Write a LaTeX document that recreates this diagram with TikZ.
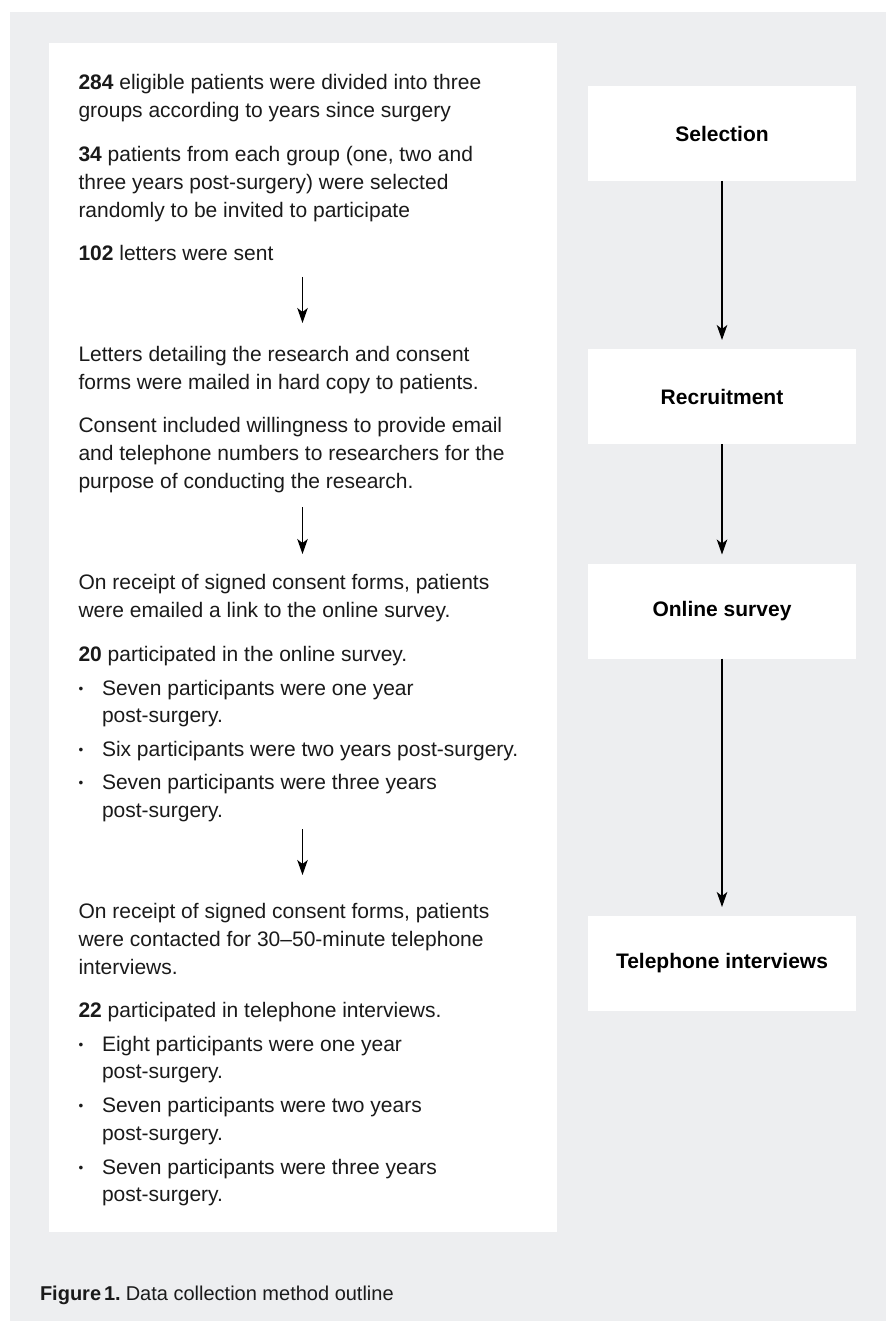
\documentclass[tikz,border=0pt]{standalone}
\usepackage{fontspec}
\setmainfont{Liberation Sans}
\usetikzlibrary{arrows.meta}
\definecolor{bg}{HTML}{EDEEF0}
\definecolor{ink}{HTML}{1A1A1A}
\newcommand\bul{\makebox[23.5pt][l]{\raisebox{1.8pt}{\fontsize{13.5}{13.5}\selectfont •}}}
\begin{document}
\begin{tikzpicture}[x=1pt,y=-1pt,
  txt/.style={anchor=base west, inner sep=0pt, outer sep=0pt, font=\fontsize{21}{28}\selectfont, text=ink},
  captext/.style={anchor=base west, inner sep=0pt, outer sep=0pt, font=\fontsize{20}{26}\selectfont, text=ink},
  stage/.style={fill=white, minimum width=268pt, minimum height=95pt, inner sep=0pt, outer sep=0pt, font=\fontsize{21}{28}\selectfont\bfseries, text=black},
  flow/.style={-{Stealth[length=15pt,width=10.5pt,inset=4pt]}, line width=1.2pt, draw=black},
  panel/.style={fill=white, draw=none},
]
\useasboundingbox (0,0) rectangle (886,1321);
\fill[white] (0,0) rectangle (886,1321);
\fill[bg] (10,12) rectangle (886,1321);
\fill[panel] (49,43) rectangle (557,1232);

% stage boxes
\node[stage] (sel) at (722,133.5) {Selection};
\node[stage] (rec) at (722,396.5) {Recruitment};
\node[stage] (onl) at (722,611) {Online survey};
\node[stage] (tel) at (722,963.5) {Telephone interviews};
\draw[flow, shorten >=9pt] (sel.south) -- (rec.north);
\draw[flow, shorten >=9pt] (rec.south) -- (onl.north);
\draw[flow, shorten >=9pt] (onl.south) -- (tel.north);

% left column text
\node[txt] (t1) at (78.5,90) {\textbf{284} eligible patients were divided into three};
\node[txt] (t2) at (78.5,118) {groups according to years since surgery};
\node[txt] (t3) at (78.5,162) {\textbf{34} patients from each group (one, two and};
\node[txt] (t4) at (78.5,190) {three years post-surgery) were selected};
\node[txt] (t5) at (78.5,218) {randomly to be invited to participate};
\node[txt] (t6) at (78.5,261) {\textbf{102} letters were sent};

\coordinate (a1s) at (302.5,277);
\coordinate (a1e) at (302.5,323);
\draw[flow] (a1s) -- (a1e);

\node[txt] (t7) at (78.5,361) {Letters detailing the research and consent};
\node[txt] (t8) at (78.5,389) {forms were mailed in hard copy to patients.};
\node[txt] (t9) at (78.5,432) {Consent included willingness to provide email};
\node[txt] (t10) at (78.5,460) {and telephone numbers to researchers for the};
\node[txt] (t11) at (78.5,488) {purpose of conducting the research.};

\coordinate (a2s) at (302.5,507);
\coordinate (a2e) at (302.5,554);
\draw[flow] (a2s) -- (a2e);

\node[txt] (t12) at (78.5,589) {On receipt of signed consent forms, patients};
\node[txt] (t13) at (78.5,617) {were emailed a link to the online survey.};
\node[txt] (t14) at (78.5,661) {\textbf{20} participated in the online survey.};
\node[txt] (t15) at (78.5,695) {\bul Seven participants were one year};
\node[txt] (t16) at (102,722) {post-surgery.};
\node[txt] (t17) at (78.5,756) {\bul Six participants were two years post-surgery.};
\node[txt] (t18) at (78.5,789) {\bul Seven participants were three years};
\node[txt] (t19) at (102,817) {post-surgery.};

\coordinate (a3s) at (302.5,829);
\coordinate (a3e) at (302.5,875);
\draw[flow] (a3s) -- (a3e);

\node[txt] (t20) at (78.5,918) {On receipt of signed consent forms, patients};
\node[txt] (t21) at (78.5,946) {were contacted for 30–50-minute telephone};
\node[txt] (t22) at (78.5,974) {interviews.};
\node[txt] (t23) at (78.5,1017) {\textbf{22} participated in telephone interviews.};
\node[txt] (t24) at (78.5,1051) {\bul Eight participants were one year};
\node[txt] (t25) at (102,1078) {post-surgery.};
\node[txt] (t26) at (78.5,1112) {\bul Seven participants were two years};
\node[txt] (t27) at (102,1140) {post-surgery.};
\node[txt] (t28) at (78.5,1174) {\bul Seven participants were three years};
\node[txt] (t29) at (102,1201) {post-surgery.};

% caption
\node[captext] (capt) at (40,1300) {\textbf{Figure\hspace{3pt}1.}\hspace{5pt}Data collection method outline};
\end{tikzpicture}
\end{document}
